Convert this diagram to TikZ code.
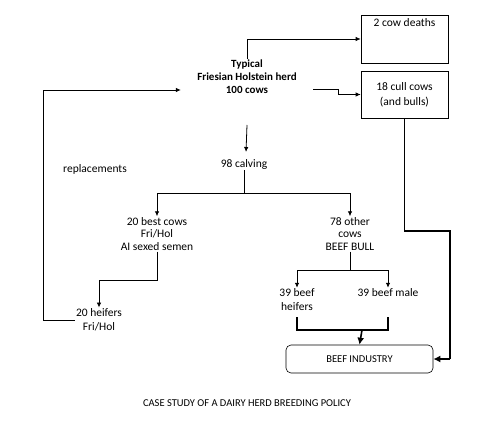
\documentclass[tikz,border=0pt]{standalone}
\usepackage{fontspec}
\setmainfont{Carlito}
\usepackage{tikz}
\usetikzlibrary{arrows.meta}

\tikzset{
    flowbox/.style={draw, semithick, minimum width=87pt, inner sep=2pt},
    herdtext/.style={align=center, font=\bfseries\fontsize{11}{13}\selectfont, minimum width=132pt, inner sep=1pt},
    plain/.style={align=center, font=\fontsize{11.5}{12.5}\selectfont, inner sep=1pt},
    link/.style={thick, -{Latex[length=5pt, width=4.5pt]}},
    bigline/.style={line width=1.6pt},
    biglink/.style={line width=1.6pt, -{Latex[length=7pt, width=7pt]}}
}

\begin{document}
\begin{tikzpicture}[x=1pt, y=-1pt]
    \useasboundingbox (0,0) rectangle (500,438);

    % herd and the two boxes on the right
    \node[herdtext] (herd) at (247,77) {Typical\\Friesian Holstein herd\\100 cows};
    \node[flowbox, minimum height=48pt, text depth=32pt, font=\fontsize{11.5}{12}\selectfont] (deaths) at (404.5,39) {2 cow deaths};
    \node[flowbox, minimum height=47pt, align=center, font=\fontsize{11.5}{15}\selectfont] (cull) at (404.5,94.5) {18 cull cows\\(and bulls)};

    % calving and split
    \node[plain] (calving) at (244,164) {98 calving};
    \node[plain] (best) at (157,234) {20 best cows\\Fri/Hol\\AI sexed semen};
    \node[plain] (other) at (350,234) {78 other\\cows\\BEEF BULL};
    \node[plain, font=\fontsize{11.5}{14}\selectfont] (heifers) at (99,320) {20 heifers\\Fri/Hol};
    \node[plain, font=\fontsize{11.5}{14}\selectfont] (beefheif) at (297,300) {39 beef\\heifers};
    \node[plain] (beefmale) at (388,293) {39 beef male};
    \node[plain] (repl) at (95,169) {replacements};
    \node[draw, semithick, rounded corners=5pt, minimum width=147pt, minimum height=28pt,
          font=\fontsize{10.5}{12}\selectfont] (industry) at (359.5,359) {BEEF INDUSTRY};
    \node[font=\fontsize{10.5}{12}\selectfont] (caption) at (247,403) {CASE STUDY OF A DAIRY HERD BREEDING POLICY};

    \coordinate (herdlow) at ([yshift=-13pt]herd.west);
    \coordinate (herdout) at ([yshift=-12pt]herd.east);
    \coordinate (calvsplit) at (245,193);
    \coordinate (bullsplit) at (350,270);
    \coordinate (backline) at (43,0);

    % connectors
    \draw[link] (herd.north) |- (deaths.west);
    \draw[thick] (herdout) -- (338,89) -- (338,94.5);
    \draw[link] (338,94.5) -- (cull.west);
    \draw[link] (247,125) -- (246,152);
    \draw[thick] (calving.south) -- (calving.south |- calvsplit);
    \draw[link] (calvsplit) -| (best.north);
    \draw[link] (calvsplit) -| (other.north);
    \draw[link] (best.south) -- (157,280) -| (heifers.north);
    \draw[link] (heifers.west) -| (backline |- herdlow) -- (herdlow);
    \draw[thick] (other.south) -- (bullsplit);
    \draw[link] (bullsplit) -| (beefheif.north);
    \draw[link] (bullsplit) -| (beefmale.north);

    % beef flows
    \draw[bigline] (297,317) -- (297,330) -- (388,330) -- (388,317);
    \draw[biglink] (362,330) -- (industry.north);
    \draw[bigline] (cull.south) -- (404.5,231) -- (450,231) -- (450,359);
    \draw[biglink] (450,359) -- (industry.east);
\end{tikzpicture}
\end{document}
